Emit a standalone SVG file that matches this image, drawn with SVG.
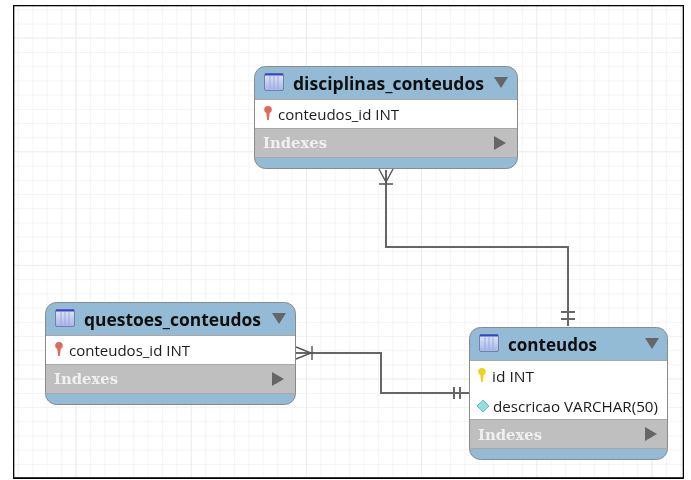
<svg xmlns="http://www.w3.org/2000/svg" width="691" height="480" viewBox="0 0 691 480">
<defs>
<pattern id="minor" x="4.500" y="-3.800" width="14.4" height="14.2" patternUnits="userSpaceOnUse"><path d="M14.4 0V14.2M0 14.2H14.4" fill="none" stroke="#f0f0f0" stroke-width="1.2"/></pattern>
<pattern id="major" x="-38.700" y="-75.100" width="115.2" height="113.6" patternUnits="userSpaceOnUse"><path d="M115.2 0V113.6M0 113.6H115.2" fill="none" stroke="#e6e6e6" stroke-width="1.2"/></pattern>
<linearGradient id="ic" x1="0" y1="0" x2="0" y2="1"><stop offset="0" stop-color="#e4e9f8"/><stop offset="1" stop-color="#a5b5e6"/></linearGradient>
<filter id="soft" x="0" y="0" width="100%" height="100%"><feGaussianBlur stdDeviation="0.4"/></filter>
<g id="tblicon"><rect x="0.5" y="0.5" width="19" height="17" rx="1.5" fill="url(#ic)" stroke="#6f7fb0"/><path d="M1 1.5H19" stroke="#3347c4" stroke-width="2"/><path d="M6 3V16M10 3V16M14 3V16" stroke="#9aaadc" fill="none"/></g>
<g id="pin"><ellipse cx="4" cy="3.500" rx="3.800" ry="3.500"/><path d="M2.200 6H5.800L4.800 14H3.200Z"/></g>
</defs>
<style>
text{font-family:"Open Sans","Liberation Sans",Arial,sans-serif}
.t{font-size:17px;font-weight:700;fill:#111}
.c{font-size:14px;fill:#1c1c1c}
.i{font-family:"DejaVu Serif",serif;font-size:14px;font-weight:700;fill:#f0f0f0}
.tb{fill:#93bbd6;stroke:#8a8a8a;stroke-width:1}
.w{fill:#fff}.g{fill:#bfbfbf}
.sep{stroke:#a8a8a8;stroke-width:1;fill:none}
.tri{fill:#666}
.cn{fill:none;stroke:#666;stroke-width:2}
.cm{fill:none;stroke:#555;stroke-width:1.4}
</style>
<rect width="691" height="480" fill="#fff"/>
<g filter="url(#soft)">
<rect x="13" y="5" width="671" height="473.500" fill="url(#minor)"/>
<rect x="13" y="5" width="671" height="473.500" fill="url(#major)"/>
<rect x="13" y="5" width="671" height="473.500" fill="none" stroke="#000" stroke-width="2.600"/>
<g id="connectors">
<path class="cn" d="M386 170V247H568V326"/>
<path class="cm" d="M379 169L386 182L393 169M379 184H393"/>
<path class="cn" d="M561 312H575M561 319H575"/>
<path class="cn" d="M296 353H381V393H469"/>
<path class="cm" d="M296 347L311 353L296 359M312 346V360"/>
<path class="cn" d="M454 387V399M460 387V399"/>
</g>
<g id="disciplinas_conteudos">
<rect class="tb" x="254.500" y="66.500" width="263" height="102" rx="11"/>
<rect class="w" x="255" y="100" width="262" height="29"/>
<rect class="g" x="255" y="129" width="262" height="28"/>
<path class="sep" d="M255 99.500H517M255 128.500H517M255 157.500H517"/>
<use href="#tblicon" x="264" y="73"/>
<text class="t" x="293" y="90" textLength="191" lengthAdjust="spacingAndGlyphs">disciplinas_conteudos</text>
<path class="tri" d="M494 77H508L501 88Z"/>
<use href="#pin" x="264" y="106" fill="#e0685c"/>
<text class="c" x="278" y="120" textLength="121" lengthAdjust="spacingAndGlyphs">conteudos_id INT</text>
<text class="i" x="263" y="148" textLength="64" lengthAdjust="spacingAndGlyphs">Indexes</text>
<path class="tri" d="M494 136L506 143L494 150Z"/>
</g>
<g id="questoes_conteudos">
<rect class="tb" x="45.500" y="302.500" width="250" height="102" rx="11"/>
<rect class="w" x="46" y="336" width="249" height="29"/>
<rect class="g" x="46" y="365" width="249" height="28"/>
<path class="sep" d="M46 335.500H295M46 364.500H295M46 393.500H295"/>
<use href="#tblicon" x="55" y="309"/>
<text class="t" x="84" y="326" textLength="177" lengthAdjust="spacingAndGlyphs">questoes_conteudos</text>
<path class="tri" d="M272 313H286L279 324Z"/>
<use href="#pin" x="55" y="342" fill="#e0685c"/>
<text class="c" x="69" y="356" textLength="121" lengthAdjust="spacingAndGlyphs">conteudos_id INT</text>
<text class="i" x="54" y="384" textLength="64" lengthAdjust="spacingAndGlyphs">Indexes</text>
<path class="tri" d="M272 372L284 379L272 386Z"/>
</g>
<g id="conteudos">
<rect class="tb" x="469.500" y="327.500" width="198" height="132" rx="11"/>
<rect class="w" x="470" y="361" width="197" height="59"/>
<rect class="g" x="470" y="420" width="197" height="29"/>
<path class="sep" d="M470 360.500H667M470 419.500H667M470 448.500H667"/>
<use href="#tblicon" x="479" y="334"/>
<text class="t" x="508" y="351" textLength="89" lengthAdjust="spacingAndGlyphs">conteudos</text>
<path class="tri" d="M645 338H659L652 349Z"/>
<use href="#pin" x="478" y="368" fill="#f0d020"/>
<text class="c" x="492" y="382" textLength="42" lengthAdjust="spacingAndGlyphs">id INT</text>
<path d="M477 406L483 400L489 406L483 412Z" fill="#8fe0e0" stroke="#6fb8c0"/>
<text class="c" x="493" y="412" textLength="165" lengthAdjust="spacingAndGlyphs">descricao VARCHAR(50)</text>
<text class="i" x="478" y="440" textLength="64" lengthAdjust="spacingAndGlyphs">Indexes</text>
<path class="tri" d="M645 427L657 434L645 441Z"/>
</g>
</g>
</svg>
